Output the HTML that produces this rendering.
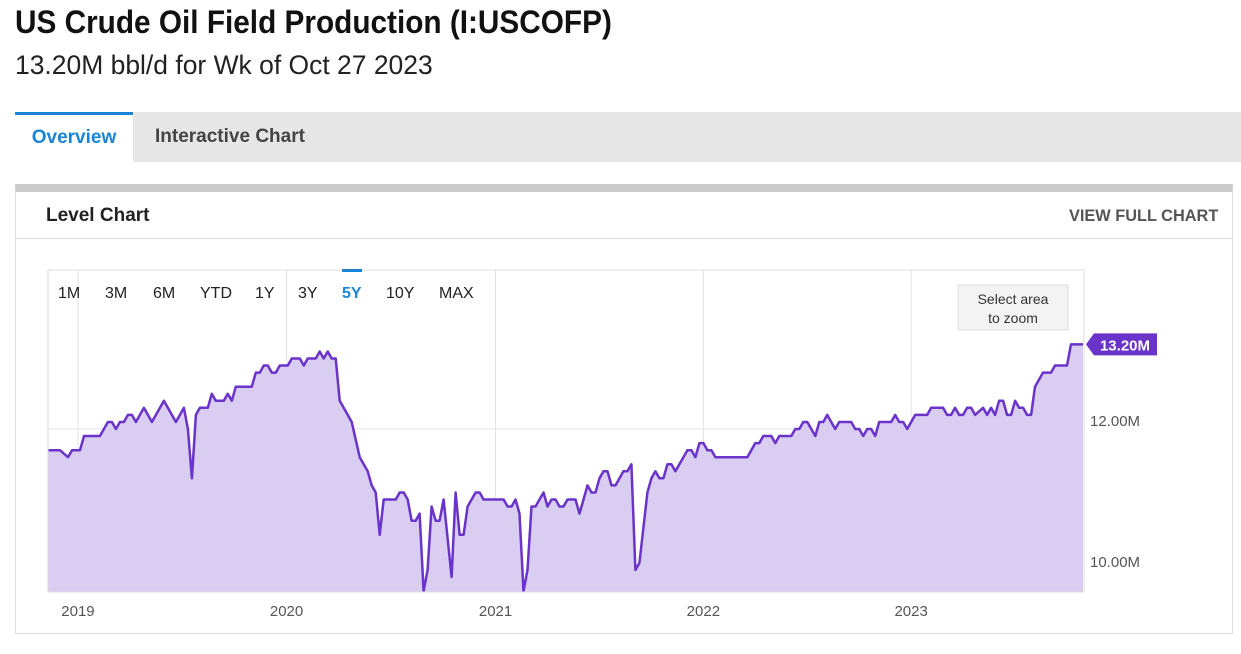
<!DOCTYPE html>
<html><head><meta charset="utf-8">
<style>
body{margin:0;width:1241px;height:654px;background:#fff;font-family:"Liberation Sans",sans-serif;overflow:hidden;position:relative}
.abs{position:absolute;white-space:nowrap}
</style></head><body>
<div class="abs" style="left:15px;top:4px;font-size:32px;font-weight:bold;color:#111;transform:scaleX(0.93);transform-origin:left">US Crude Oil Field Production (I:USCOFP)</div>
<div class="abs" style="left:15px;top:50px;font-size:27px;color:#222;transform:scaleX(0.98);transform-origin:left">13.20M bbl/d for Wk of Oct 27 2023</div>
<div class="abs" style="left:15px;top:112px;width:1226px;height:50px;background:#e6e6e6"></div>
<div class="abs" style="left:15px;top:112px;width:118px;height:50px;background:#fff;border-top:3px solid #1a85d6;box-sizing:border-box;font-size:19px;font-weight:bold;color:#1a85d6;text-align:center;line-height:46px">Overview</div>
<div class="abs" style="left:155px;top:112px;height:50px;font-size:19px;font-weight:bold;color:#444;line-height:50px">Interactive Chart</div>
<div class="abs" style="left:15px;top:184px;width:1218px;height:450px;border:1px solid #ddd;border-top:8px solid #ccc;box-sizing:border-box"></div>
<div class="abs" style="left:46px;top:205px;font-size:19px;font-weight:bold;color:#222">Level Chart</div>
<div class="abs" style="left:1069px;top:206px;font-size:17px;font-weight:bold;color:#555;transform:scaleX(0.96);transform-origin:left">VIEW FULL CHART</div>
<div class="abs" style="left:16px;top:238px;width:1216px;height:1px;background:#ddd"></div>

<svg class="abs" style="left:0;top:0" width="1241" height="654">
<g id="grid"></g>
<path id="area" fill="#d9cdf2"/>
<path id="line" fill="none" stroke="#6a33c9" stroke-width="2.5" stroke-linejoin="round"/>
<rect x="48" y="270" width="1036" height="322" fill="none" stroke="#ddd"/>
<g id="labels" font-family="Liberation Sans, sans-serif" font-size="15" fill="#555"></g>
<g font-family="Liberation Sans, sans-serif" font-size="16" fill="#222">
<text x="58" y="298">1M</text>
<text x="105" y="298">3M</text>
<text x="153" y="298">6M</text>
<text x="200" y="298">YTD</text>
<text x="255" y="298">1Y</text>
<text x="298" y="298">3Y</text>
<rect x="342" y="269" width="20" height="3" fill="#1a85d6"/>
<text x="342" y="298" fill="#1a85d6" font-weight="bold">5Y</text>
<text x="386" y="298">10Y</text>
<text x="439" y="298">MAX</text>
</g>
<g>
<rect x="958" y="285" width="110" height="45" fill="#f3f3f3" stroke="#ddd"/>
<text x="1013" y="304" text-anchor="middle" font-family="Liberation Sans, sans-serif" font-size="14" fill="#333">Select area</text>
<text x="1013" y="323" text-anchor="middle" font-family="Liberation Sans, sans-serif" font-size="14" fill="#333">to zoom</text>
</g>
<g id="tag"></g>
</svg>
<script>
const weeks=[0,3,5,6,8,9,13,15,16,17,18,19,20,21,22,24,26,29,32,34,35,36,37,38,40,41,42,44,45,46,47,51,52,53,54,55,56,57,58,60,61,63,64,65,67,68,69,70,71,72,73,75,76,78,79,80,81,82,83,84,87,88,89,90,91,92,93,94,95,96,97,98,99,101,102,103,104,105,107,108,109,114,115,116,117,118,119,120,121,122,124,125,126,127,128,129,130,132,133,135,136,137,138,139,140,141,142,144,145,146,147,148,150,151,152,153,154,155,156,157,160,161,162,163,164,165,166,167,168,175,177,178,179,181,182,183,186,187,188,189,190,192,193,194,195,197,198,201,202,203,204,205,206,207,208,211,212,213,214,215,217,220,221,224,225,226,227,228,229,230,231,232,234,235,236,237,238,239,240,241,242,243,244,245,246,247,249,251,252,255,256,259];
const values=[11.7,11.7,11.6,11.7,11.7,11.9,11.9,12.1,12.1,12.0,12.1,12.1,12.2,12.2,12.1,12.3,12.1,12.4,12.1,12.3,12.0,11.3,12.2,12.3,12.3,12.5,12.4,12.4,12.5,12.4,12.6,12.6,12.8,12.8,12.9,12.9,12.8,12.8,12.9,12.9,13.0,13.0,12.9,13.0,13.0,13.1,13.0,13.1,13.0,13.0,12.4,12.2,12.1,11.6,11.5,11.4,11.2,11.1,10.5,11.0,11.0,11.1,11.1,11.0,10.7,10.7,10.8,9.7,10.0,10.9,10.7,10.7,11.0,9.9,11.1,10.5,10.5,10.9,11.1,11.1,11.0,11.0,10.9,10.9,11.0,10.8,9.7,10.0,10.9,10.9,11.1,10.9,11.0,11.0,10.9,10.9,11.0,11.0,10.8,11.2,11.1,11.1,11.3,11.4,11.4,11.2,11.2,11.4,11.4,11.5,10.0,10.1,11.1,11.3,11.4,11.3,11.3,11.5,11.5,11.4,11.7,11.7,11.6,11.8,11.8,11.7,11.7,11.6,11.6,11.6,11.8,11.8,11.9,11.9,11.8,11.9,11.9,12.0,12.0,12.1,12.1,11.9,12.1,12.1,12.2,12.0,12.1,12.1,12.0,12.0,11.9,12.0,12.0,11.9,12.1,12.1,12.2,12.1,12.1,12.0,12.2,12.2,12.3,12.3,12.2,12.2,12.3,12.2,12.2,12.3,12.3,12.2,12.3,12.2,12.3,12.2,12.4,12.4,12.2,12.2,12.4,12.3,12.3,12.2,12.2,12.6,12.8,12.8,12.9,12.9,13.2,13.2];
const yearLabels=["2019","2020","2021","2022","2023"];
const yearWeeks=[7.5,59.7,112,164,216];
const yTicks=[10,12];
const yTickLabels=["10.00M","12.00M"];
const lastLabel="13.20M";

const NS="http://www.w3.org/2000/svg";
const xS=w=>48+w*(1035/259);
const yS=v=>429-(v-12)*70.5;
function mk(tag,attrs,parent){const e=document.createElementNS(NS,tag);for(const k in attrs)e.setAttribute(k,attrs[k]);parent.appendChild(e);return e;}
const grid=document.getElementById('grid'),labels=document.getElementById('labels');
yTicks.forEach((t,i)=>{
  const l=mk('line',{x1:48,x2:1084,y1:yS(t),y2:yS(t),stroke:'#e3e3e3'},grid);
  
  
  const tx=mk('text',{x:1090,y:yS(t)-3},labels);tx.textContent=yTickLabels[i];
  
  
});
yearWeeks.forEach((w,i)=>{
  const l=mk('line',{x1:xS(w),x2:xS(w),y1:270,y2:592,stroke:'#e3e3e3'},grid);
  
  
  const tx=mk('text',{x:xS(w),y:616,'text-anchor':'middle'},labels);tx.textContent=yearLabels[i];
  
  
});
let d='';weeks.forEach((w,i)=>{d+=(i?'L':'M')+xS(w).toFixed(1)+' '+yS(values[i]).toFixed(1);});
document.getElementById('line').setAttribute('d',d);
document.getElementById('area').setAttribute('d',d+'L'+xS(weeks[weeks.length-1])+' 592L'+xS(weeks[0])+' 592Z');
const tag=document.getElementById('tag');const ly=yS(values[values.length-1]);
mk('path',{d:`M1086 ${ly}L1094 ${ly-11}H1157V${ly+11}H1094Z`,fill:'#6a33c9'},tag);
const tt=mk('text',{x:1125,y:ly+6,'text-anchor':'middle','font-family':'Liberation Sans, sans-serif','font-size':'15','font-weight':'bold',fill:'#fff'},tag);tt.textContent=lastLabel;
</script>
</body></html>
